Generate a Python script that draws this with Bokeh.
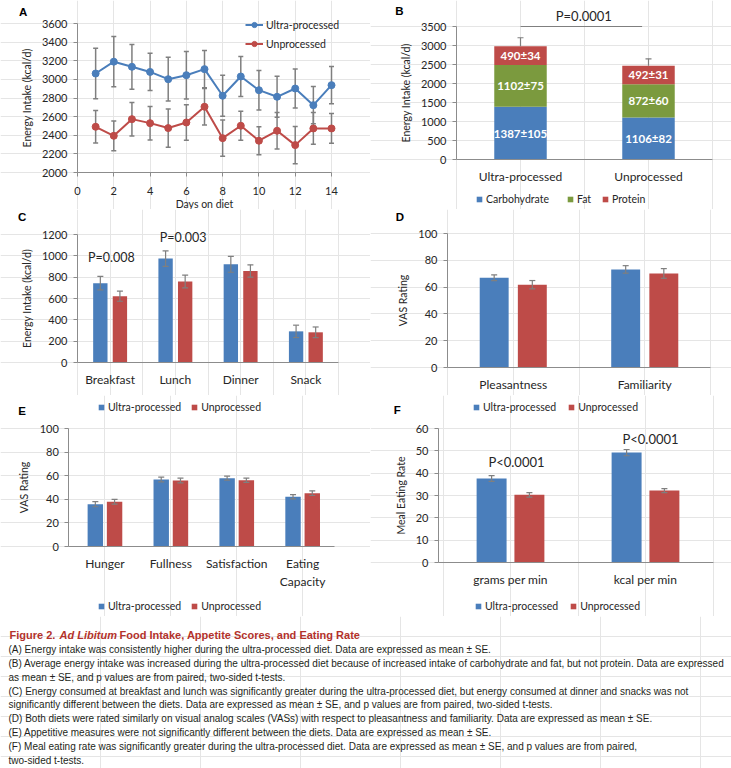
from bokeh.plotting import figure
from bokeh.models import (ColumnDataSource, Range1d, FixedTicker, LinearAxis,
                          Legend, LegendItem, Label)
from bokeh.layouts import column, row
from bokeh.core.properties import value
from bokeh.embed import file_html
from bokeh.resources import INLINE

FONT = "Lato"
CAP_FONT = "Liberation Sans"
BLUE = "#4a7ebb"
RED = "#be4b48"
GREEN = "#7b9a3e"
ERR = "#7f7f7f"
AXIS = "#8c8c8c"
TXT = "#262626"
TITLE_RED = "#b3322b"

series_names = ["Ultra-processed", "Unprocessed"]

# ---- Panel A: daily energy intake ----
days = list(range(1, 15))
ultra_daily = [3063, 3190, 3135, 3080, 3002, 3045, 3110, 2824, 3031, 2884, 2813, 2902, 2723, 2938]
ultra_daily_se = [270, 270, 240, 200, 235, 255, 200, 220, 215, 212, 220, 210, 200, 200]
unproc_daily = [2491, 2394, 2573, 2530, 2477, 2537, 2706, 2369, 2502, 2341, 2448, 2294, 2473, 2473]
unproc_daily_se = [175, 160, 180, 180, 205, 190, 195, 195, 155, 150, 195, 200, 170, 160]
a_xticks = [0, 2, 4, 6, 8, 10, 12, 14]
a_yticks = [2000, 2200, 2400, 2600, 2800, 3000, 3200, 3400, 3600]

# ---- Panel B: macronutrients ----
diets = ["Ultra-processed", "Unprocessed"]
macro_names = ["Carbohydrate", "Fat", "Protein"]
carb = [1387, 1106]
carb_se = [105, 82]
fat = [1102, 872]
fat_se = [75, 60]
protein = [490, 492]
protein_se = [34, 31]
total_se = [225, 180]
b_yticks = [0, 500, 1000, 1500, 2000, 2500, 3000, 3500]
b_pvalue = "P=0.0001"

# ---- Panel C: meals ----
meals = ["Breakfast", "Lunch", "Dinner", "Snack"]
meal_ultra = [744, 974, 920, 292]
meal_ultra_se = [63, 72, 74, 58]
meal_unproc = [622, 760, 858, 283]
meal_unproc_se = [48, 60, 58, 50]
c_yticks = [0, 200, 400, 600, 800, 1000, 1200]
c_pvalues = ["P=0.008", "P=0.003"]

# ---- Panel D: food ratings ----
food_attrs = ["Pleasantness", "Familiarity"]
attr_ultra = [67.0, 73.2]
attr_ultra_se = [2.1, 2.8]
attr_unproc = [61.8, 70.2]
attr_unproc_se = [3.1, 3.6]
vas_yticks = [0, 20, 40, 60, 80, 100]

# ---- Panel E: appetite ----
appetite = ["Hunger", "Fullness", "Satisfaction", "Eating\nCapacity"]
app_ultra = [35.9, 56.8, 57.9, 42.1]
app_ultra_se = [2.2, 2.0, 1.7, 1.8]
app_unproc = [37.9, 55.9, 56.2, 45.2]
app_unproc_se = [2.0, 2.0, 1.8, 2.0]

# ---- Panel F: eating rate ----
rate_units = ["grams per min", "kcal per min"]
rate_ultra = [37.6, 49.2]
rate_ultra_se = [1.3, 1.4]
rate_unproc = [30.3, 32.2]
rate_unproc_se = [1.0, 0.9]
f_yticks = [0, 10, 20, 30, 40, 50, 60]
f_pvalues = ["P<0.0001", "P<0.0001"]

caption_title = ["Figure 2.", "Ad Libitum", "Food Intake, Appetite Scores, and Eating Rate"]
caption_lines = [
    "(A) Energy intake was consistently higher during the ultra-processed diet. Data are expressed as mean \u00b1 SE.",
    "(B) Average energy intake was increased during the ultra-processed diet because of increased intake of carbohydrate and fat, but not protein. Data are expressed",
    "as mean \u00b1 SE, and p values are from paired, two-sided t-tests.",
    "(C) Energy consumed at breakfast and lunch was significantly greater during the ultra-processed diet, but energy consumed at dinner and snacks was not",
    "significantly different between the diets. Data are expressed as mean \u00b1 SE, and p values are from paired, two-sided t-tests.",
    "(D) Both diets were rated similarly on visual analog scales (VASs) with respect to pleasantness and familiarity. Data are expressed as mean \u00b1 SE.",
    "(E) Appetitive measures were not significantly different between the diets. Data are expressed as mean \u00b1 SE.",
    "(F) Meal eating rate was significantly greater during the ultra-processed diet. Data are expressed as mean \u00b1 SE, and p values are from paired,",
    "two-sided t-tests.",
]


class Geo:
    """Maps figure pixels (from top-left) to data, given the plot-area box."""
    def __init__(self, w, h, pl, pr, pt, pb, x0, x1, y0, y1):
        self.w, self.h = w, h
        self.pl, self.pr, self.pt, self.pb = pl, pr, pt, pb
        self.x0, self.x1, self.y0, self.y1 = x0, x1, y0, y1

    def dx(self, fx):
        return self.x0 + (fx - self.pl) / (self.pr - self.pl) * (self.x1 - self.x0)

    def dy(self, fy):
        return self.y1 - (fy - self.pt) / (self.pb - self.pt) * (self.y1 - self.y0)


def style_axis(ax):
    ax.axis_line_color = AXIS
    ax.major_tick_line_color = AXIS
    ax.major_tick_out = 4
    ax.major_tick_in = 0
    ax.minor_tick_line_color = None
    ax.major_label_text_font = FONT
    ax.major_label_text_font_size = "11px"
    ax.major_label_text_color = TXT
    ax.major_label_standoff = 6
    ax.axis_label_text_font = FONT
    ax.axis_label_text_font_size = "10.5px"
    ax.axis_label_text_font_style = "normal"
    ax.axis_label_text_color = TXT
    ax.axis_label_standoff = 6


def make_fig(g):
    p = figure(width=g.w, height=g.h,
               x_range=Range1d(g.dx(0), g.dx(g.w)), y_range=Range1d(g.dy(g.h), g.dy(0)),
               output_backend="svg", toolbar_location=None, min_border=0,
               x_axis_location=None, y_axis_location=None)
    p.outline_line_color = None
    p.background_fill_color = "white"
    p.border_fill_color = "white"
    return p


def add_axes(p, g, xfix, xbounds, xticks, yfix, yticks, xlabels=None,
             xlabel=None, ylabel=None, cat_standoff=9):
    xa = LinearAxis(fixed_location=xfix, bounds=xbounds, ticker=FixedTicker(ticks=xticks))
    ya = LinearAxis(fixed_location=yfix, bounds=(yticks[0], yticks[-1]),
                    ticker=FixedTicker(ticks=yticks))
    style_axis(xa)
    style_axis(ya)
    if xlabels is not None:
        xa.major_label_overrides = {t: lab for t, lab in zip(xticks, xlabels)}
        xa.major_tick_line_color = None
        xa.major_tick_out = 0
        xa.major_label_text_font_size = "12px"
        xa.major_label_standoff = cat_standoff
    if xlabel:
        xa.axis_label = xlabel
    if ylabel:
        ya.axis_label = ylabel
    p.add_layout(xa, "below")
    p.add_layout(ya, "left")
    return xa, ya


def letter(p, g, fx, fy, t):
    p.add_layout(Label(x=g.dx(fx), y=g.dy(fy), text=t, text_align="center",
                       text_baseline="middle", text_font=CAP_FONT, text_font_style="bold",
                       text_font_size="11.5px", text_color="black"))


def ptext(p, x, y, t, size="13px"):
    p.add_layout(Label(x=x, y=y, text=t, text_align="center", text_baseline="middle",
                       text_font=FONT, text_font_size=size, text_color=TXT))


def errbars(p, src, xs, lo, hi, cap=6, lw=1.2, lower=True):
    p.segment(x0=xs, y0=lo, x1=xs, y1=hi, source=src, line_color=ERR, line_width=lw)
    p.scatter(x=xs, y=hi, marker="dash", size=cap, line_color=ERR, line_width=lw, source=src)
    if lower:
        p.scatter(x=xs, y=lo, marker="dash", size=cap, line_color=ERR, line_width=lw, source=src)


def swatch(p, src, xcol, ycol, color):
    # hidden square-marker renderer that supplies the legend's square swatch
    r = p.scatter(x=xcol, y=ycol, source=src, marker="square", size=6,
                  fill_color=color, line_color=None)
    r.visible = False
    return r


def grouped(p, cats, u, use, n, nse, off, bw, cap=6):
    idx = list(range(len(cats)))
    src = ColumnDataSource(dict(
        xu=[i - off for i in idx], xn=[i + off for i in idx], u=u, n=n,
        u_lo=[a - b for a, b in zip(u, use)], u_hi=[a + b for a, b in zip(u, use)],
        n_lo=[a - b for a, b in zip(n, nse)], n_hi=[a + b for a, b in zip(n, nse)]))
    p.vbar(x="xu", top="u", width=bw, source=src, fill_color=BLUE, line_color=None)
    p.vbar(x="xn", top="n", width=bw, source=src, fill_color=RED, line_color=None)
    errbars(p, src, "xu", "u_lo", "u_hi", cap)
    errbars(p, src, "xn", "n_lo", "n_hi", cap)
    return [swatch(p, src, "xu", "u", BLUE), swatch(p, src, "xn", "n", RED)]


def bar_legend(p, rends, labels, vx, vy, spacing=6):
    items = [LegendItem(label=lab, renderers=[r]) for lab, r in zip(labels, rends)]
    lg = Legend(items=items, location=(vx, vy), orientation="horizontal",
                glyph_width=14, glyph_height=14, label_height=14, label_standoff=0,
                spacing=spacing, padding=0, margin=0, border_line_color=None,
                background_fill_alpha=0, inactive_fill_alpha=0, label_text_font=FONT,
                label_text_font_size="10.5px", label_text_color=TXT)
    p.add_layout(lg)


# ================= Panel A =================
H1, H2, H3 = 209, 186, 221
ga = Geo(370, H1, 77, 331, 23, 172, 0, 14, 2000, 3600)
pa = make_fig(ga)
xa, ya = add_axes(pa, ga, 2000, (0, 14), a_xticks, 0, a_yticks,
                  xlabel="Days on diet", ylabel="Energy Intake (kcal/d)")
xa.major_label_standoff = 10
xa.axis_label_standoff = 0
src_a = ColumnDataSource(dict(
    day=days, u=ultra_daily, n=unproc_daily,
    u_lo=[a - b for a, b in zip(ultra_daily, ultra_daily_se)],
    u_hi=[a + b for a, b in zip(ultra_daily, ultra_daily_se)],
    n_lo=[a - b for a, b in zip(unproc_daily, unproc_daily_se)],
    n_hi=[a + b for a, b in zip(unproc_daily, unproc_daily_se)]))
errbars(pa, src_a, "day", "u_lo", "u_hi", cap=5, lw=1.5)
errbars(pa, src_a, "day", "n_lo", "n_hi", cap=5, lw=1.5)
la1 = pa.line("day", "u", source=src_a, line_color=BLUE, line_width=2)
sa1 = pa.scatter("day", "u", source=src_a, size=7, fill_color=BLUE, line_color=BLUE)
la2 = pa.line("day", "n", source=src_a, line_color=RED, line_width=2)
sa2 = pa.scatter("day", "n", source=src_a, size=7, fill_color=RED, line_color=RED)
lega = Legend(items=[LegendItem(label=series_names[0], renderers=[la1, sa1]),
                     LegendItem(label=series_names[1], renderers=[la2, sa2])],
              location=(245, 159), orientation="vertical", glyph_width=18,
              glyph_height=13, label_height=13, label_standoff=3, spacing=6,
              padding=0, margin=0, border_line_color=None, background_fill_alpha=0,
              label_text_font=FONT, label_text_font_size="10.5px", label_text_color=TXT)
pa.add_layout(lega)
letter(pa, ga, 22.7, 11, "A")

# ================= Panel B =================
gb = Geo(361, H1, 86, 342, 26, 159, -0.5, 1.5, 0, 3500)
pb = make_fig(gb)
b_idx = list(range(len(diets)))
add_axes(pb, gb, 0, (-0.5, 1.5), b_idx, -0.5, b_yticks, xlabels=diets,
         ylabel="Energy Intake (kcal/d)")
c_top = list(carb)
f_top = [a + b for a, b in zip(carb, fat)]
t_top = [a + b for a, b in zip(f_top, protein)]
src_b = ColumnDataSource(dict(
    x=b_idx, zero=[0] * len(diets), c_top=c_top, f_top=f_top, t_top=t_top,
    c_mid=[v / 2 for v in c_top],
    f_mid=[(a + b) / 2 for a, b in zip(c_top, f_top)],
    p_mid=[(a + b) / 2 for a, b in zip(f_top, t_top)],
    c_lbl=[f"{v}\u00b1{s}" for v, s in zip(carb, carb_se)],
    f_lbl=[f"{v}\u00b1{s}" for v, s in zip(fat, fat_se)],
    p_lbl=[f"{v}\u00b1{s}" for v, s in zip(protein, protein_se)],
    e_hi=[a + b for a, b in zip(t_top, total_se)]))
BW_B = 0.41
pb.vbar(x="x", bottom="zero", top="c_top", width=BW_B, source=src_b, fill_color=BLUE, line_color=None)
pb.vbar(x="x", bottom="c_top", top="f_top", width=BW_B, source=src_b, fill_color=GREEN, line_color=None)
pb.vbar(x="x", bottom="f_top", top="t_top", width=BW_B, source=src_b, fill_color=RED, line_color=None)
errbars(pb, src_b, "x", "t_top", "e_hi", cap=6, lw=1.2, lower=False)
for ycol, tcol in (("c_mid", "c_lbl"), ("f_mid", "f_lbl"), ("p_mid", "p_lbl")):
    pb.text(x="x", y=ycol, text=tcol, source=src_b, text_align="center",
            text_baseline="middle", text_color="white", text_font=value(FONT),
            text_font_style=value("bold"), text_font_size="11.5px")
pb.segment(x0=[b_idx[0]], y0=[b_yticks[-1]], x1=[b_idx[-1] - 0.05], y1=[b_yticks[-1]],
           line_color=ERR, line_width=1)
ptext(pb, gb.dx(213.3), gb.dy(15.7), b_pvalue, "13px")
sw_b = [swatch(pb, src_b, "x", "c_mid", BLUE), swatch(pb, src_b, "x", "f_mid", GREEN),
        swatch(pb, src_b, "x", "p_mid", RED)]
bar_legend(pb, sw_b[:1], macro_names[:1], 102, 3)
bar_legend(pb, sw_b[1:], macro_names[1:], 193, 3, spacing=1)
letter(pb, gb, 29, 10, "B")

# ================= Panel C =================
gc = Geo(370, H2, 77, 338, 25, 153, -0.5, 3.5, 0, 1200)
pc = make_fig(gc)
c_idx = list(range(len(meals)))
add_axes(pc, gc, 0, (-0.5, 3.5), c_idx, -0.5, c_yticks, xlabels=meals,
         ylabel="Energy Intake (kcal/d)")
grouped(pc, meals, meal_ultra, meal_ultra_se, meal_unproc, meal_unproc_se, 0.15, 0.22, 6)
ptext(pc, 0.02, 984, c_pvalues[0], "12.5px")
ptext(pc, 1.12, 1172, c_pvalues[1], "12.5px")
letter(pc, gc, 21.7, 7.9, "C")

# ================= Panel D =================
gd = Geo(361, H2, 77, 340, 24, 158, -0.5, 1.5, 0, 100)
pd_ = make_fig(gd)
d_idx = list(range(len(food_attrs)))
add_axes(pd_, gd, 0, (-0.5, 1.5), d_idx, -0.5, vas_yticks, xlabels=food_attrs,
         ylabel="VAS Rating")
grouped(pd_, food_attrs, attr_ultra, attr_ultra_se, attr_unproc, attr_unproc_se, 0.145, 0.22, 6)
letter(pd_, gd, 29.3, 7.9, "D")

# ================= Panel E =================
ge = Geo(370, H3, 71.5, 335.1, 33, 151, -0.5, 3.5, 0, 100)
pe = make_fig(ge)
e_idx = list(range(len(appetite)))
add_axes(pe, ge, 0, (ge.dx(68.3), ge.dx(334.3)), e_idx, ge.dx(68.3), vas_yticks,
         xlabels=appetite, ylabel="VAS Rating")
sw_e = grouped(pe, appetite, app_ultra, app_ultra_se, app_unproc, app_unproc_se, 0.146, 0.234, 6)
bar_legend(pe, sw_e, series_names, 94, 202, spacing=6)   # legend belonging to panel C
bar_legend(pe, sw_e, series_names, 94, 3, spacing=6)     # legend of panel E
letter(pe, ge, 21.7, 15, "E")

# ================= Panel F =================
gf = Geo(361, H3, 72.5, 342.5, 33, 167, -0.5, 1.5, 0, 60)
pf = make_fig(gf)
f_idx = list(range(len(rate_units)))
add_axes(pf, gf, 0, (gf.dx(68), gf.dx(343)), f_idx, gf.dx(68), f_yticks,
         xlabels=rate_units, ylabel="Meal Eating Rate")
sw_f = grouped(pf, rate_units, rate_ultra, rate_ultra_se, rate_unproc, rate_unproc_se, 0.14, 0.222, 6)
ptext(pf, 0.044, 45.2, f_pvalues[0], "13px")
ptext(pf, 1.037, 55.5, f_pvalues[1], "13px")
bar_legend(pf, sw_f, series_names, 99, 202, spacing=8)   # legend belonging to panel D
bar_legend(pf, sw_f, series_names, 101, 3, spacing=8)    # legend of panel F
letter(pf, gf, 26.7, 14.3, "F")

# ================= Caption =================
WK, HK = 731, 152
pk = figure(width=WK, height=HK, x_range=Range1d(0, WK), y_range=Range1d(HK, 0),
            output_backend="svg", toolbar_location=None, min_border=0,
            x_axis_location=None, y_axis_location=None)
pk.outline_line_color = None
title_x = [9, 59, 119]
title_styles = ["bold", "bold italic", "bold"]
for tx, tt, ts in zip(title_x, caption_title, title_styles):
    pk.text(x=[tx], y=[18], text=[tt], text_font=value(CAP_FONT), text_font_style=value(ts),
            text_font_size="11px", text_color=TITLE_RED, text_baseline="middle", text_align="left")
ys = [33 + i * 13.85 for i in range(len(caption_lines))]
pk.text(x=[8] * len(caption_lines), y=ys, text=caption_lines, text_font=value(CAP_FONT),
        text_font_size="10px", text_color="#231f20", text_baseline="middle", text_align="left")

layout = column(row(pa, pb), row(pc, pd_), row(pe, pf), pk)
open("out.html", "w").write(file_html(layout, INLINE))
